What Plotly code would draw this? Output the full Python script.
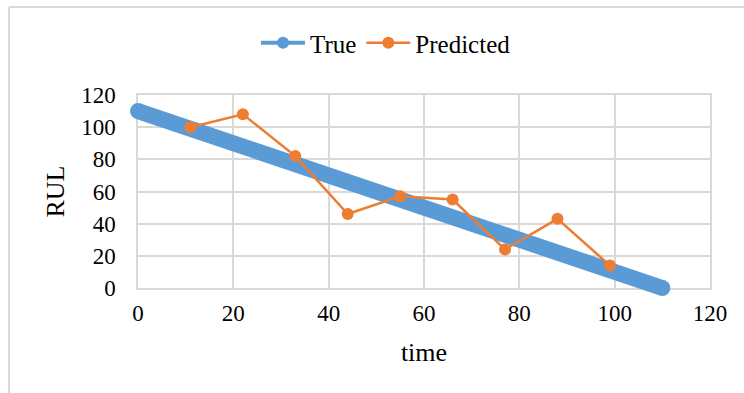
import plotly.graph_objects as go

true_time = [0, 110]
true_rul = [110, 0]
pred_time = [11, 22, 33, 44, 55, 66, 77, 88, 99]
pred_rul = [100, 108, 82, 46, 57, 55, 24, 43, 14]
x_ticks = [0, 20, 40, 60, 80, 100, 120]
y_ticks = [0, 20, 40, 60, 80, 100, 120]

BLUE = "#5b9bd5"
ORANGE = "#ed7d31"
FONT = "Liberation Serif"

W, H = 744, 393
ML, MR, MT, MB = 118, 34, 75, 85
PL, PR, PT, PB = 138, 710, 95, 288  # plot area pixels
pw, ph = W - ML - MR, H - MT - MB
xd = [(PL - ML) / pw, (PR - ML) / pw]
yd = [(H - MB - PB) / ph, (H - MB - PT) / ph]
ux = (PR - PL) / 120.0
uy = (PB - PT) / 120.0
x2r = [(ML - PL) / ux, 120 + (W - MR - PR) / ux]
y2r = [-(H - MB - PB) / uy, 120 + (PT - MT) / uy]

fig = go.Figure()
fig.add_trace(go.Scatter(x=[None], y=[None], mode="lines+markers", name="True",
                         line=dict(color=BLUE, width=4),
                         marker=dict(color=BLUE, size=12), legendgroup="t"))
fig.add_trace(go.Scatter(x=true_time, y=true_rul, mode="lines+markers", name="True",
                         line=dict(color=BLUE, width=16),
                         marker=dict(color=BLUE, size=16), showlegend=False,
                         legendgroup="t", xaxis="x2", yaxis="y2"))
fig.add_trace(go.Scatter(x=pred_time, y=pred_rul, mode="lines+markers", name="Predicted",
                         line=dict(color=ORANGE, width=2.5),
                         marker=dict(color=ORANGE, size=12), xaxis="x2", yaxis="y2"))

axis_common = dict(showgrid=True, gridcolor="#d9d9d9", gridwidth=1.5,
                   showline=True, linecolor="#d9d9d9", linewidth=1.5, mirror=True,
                   zeroline=False, ticks="", fixedrange=True, automargin=False,
                   tickfont=dict(family=FONT, size=23, color="black"))

fig.update_layout(
    width=W, height=H,
    margin=dict(l=ML, r=MR, t=MT, b=MB, autoexpand=False),
    paper_bgcolor="white", plot_bgcolor="rgba(0,0,0,0)",
    font=dict(family=FONT, color="black"),
    xaxis=dict(range=[0, 120], tickvals=x_ticks, ticklabelstandoff=4, domain=xd,
               title=dict(text="time", font=dict(family=FONT, size=26), standoff=17),
               **axis_common),
    yaxis=dict(range=[0, 120], tickvals=y_ticks, ticklabelstandoff=16, domain=yd,
               title=dict(text="RUL", font=dict(family=FONT, size=26), standoff=9),
               **axis_common),
    xaxis2=dict(range=x2r, domain=[0, 1], anchor="y2", visible=False, fixedrange=True),
    yaxis2=dict(range=y2r, domain=[0, 1], anchor="x2", visible=False, fixedrange=True),
    legend=dict(orientation="h", x=(386 - ML) / pw, xanchor="center",
                y=(H - MB - 43) / ph, yanchor="middle",
                font=dict(family=FONT, size=25), itemwidth=44, traceorder="normal",
                bgcolor="rgba(0,0,0,0)"),
    shapes=[
        dict(type="line", xref="paper", yref="paper",
             x0=(9 - ML) / pw, x1=(9 - ML) / pw, y0=(H - MB - 400) / ph, y1=(H - MB - 7) / ph,
             line=dict(color="#d9d9d9", width=2), layer="below"),
        dict(type="line", xref="paper", yref="paper",
             x0=(9 - ML) / pw, x1=(760 - ML) / pw, y0=(H - MB - 7) / ph, y1=(H - MB - 7) / ph,
             line=dict(color="#d9d9d9", width=2), layer="below"),
    ],
)

fig.write_html("out.html")
